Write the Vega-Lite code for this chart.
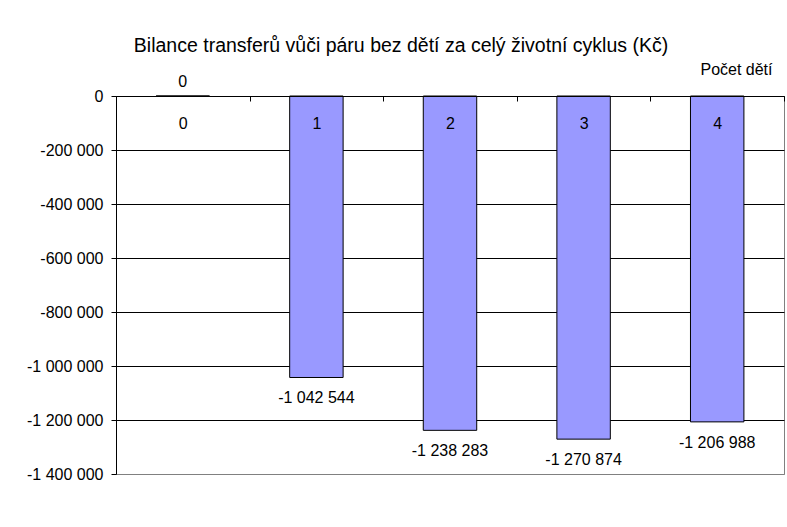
{
  "$schema": "https://vega.github.io/schema/vega-lite/v6.json",
  "width": 668,
  "height": 378,
  "autosize": {"type": "none"},
  "padding": {"left": 116, "top": 96, "right": 3, "bottom": 53},
  "background": "white",
  "title": {
    "text": "Bilance transferů vůči páru bez dětí za celý životní cyklus (Kč)",
    "font": "Liberation Sans",
    "fontSize": 19.5,
    "fontWeight": "normal",
    "color": "#000000",
    "anchor": "middle",
    "frame": "group",
    "dx": -49,
    "dy": 10,
    "baseline": "alphabetic",
    "offset": 0
  },
  "config": {
    "font": "Liberation Sans",
    "locale": {
      "number": {"decimal": ",", "thousands": " ", "grouping": [3], "currency": ["", " Kč"], "minus": "-"}
    },
    "view": {"stroke": "#808080", "strokeWidth": 1},
    "axis": {"labelFont": "Liberation Sans", "titleFont": "Liberation Sans"}
  },
  "data": {
    "values": [
      {"deti": "0", "bilance": 0},
      {"deti": "1", "bilance": -1042544},
      {"deti": "2", "bilance": -1238283},
      {"deti": "3", "bilance": -1270874},
      {"deti": "4", "bilance": -1206988}
    ]
  },
  "encoding": {
    "x": {
      "field": "deti",
      "type": "nominal",
      "sort": null,
      "scale": {"paddingInner": 0, "paddingOuter": 0},
      "axis": {
        "orient": "bottom",
        "offset": -378,
        "zindex": 1,
        "tickBand": "extent",
        "domainColor": "#000000",
        "domainWidth": 1,
        "tickColor": "#000000",
        "tickSize": 5,
        "labelPadding": 14,
        "labelAngle": 0,
        "labelFontSize": 16,
        "labelColor": "#000000",
        "grid": false,
        "title": "Počet dětí",
        "titleX": 656,
        "titleY": -22,
        "titleAlign": "right",
        "titleAnchor": null,
        "titleBaseline": "alphabetic",
        "titleFontSize": 16,
        "titleFontWeight": "normal",
        "titleColor": "#000000"
      }
    },
    "y": {
      "field": "bilance",
      "type": "quantitative",
      "scale": {"domain": [-1400000, 0], "nice": false, "zero": false},
      "axis": {
        "values": [0, -200000, -400000, -600000, -800000, -1000000, -1200000, -1400000],
        "format": ",d",
        "domainColor": "#000000",
        "tickColor": "#000000",
        "tickSize": 5,
        "labelPadding": 8,
        "labelFontSize": 16,
        "labelColor": "#000000",
        "grid": true,
        "gridColor": {"condition": {"test": "datum.value <= -1400000", "value": "#808080"}, "value": "#000000"},
        "gridOpacity": 1,
        "gridWidth": 1,
        "title": null
      }
    }
  },
  "layer": [
    {
      "mark": {"type": "bar", "width": {"band": 0.4}, "fill": "#9999FF", "stroke": "#000000", "strokeWidth": 1}
    },
    {
      "transform": [{"filter": "datum.bilance < 0"}],
      "mark": {"type": "text", "baseline": "top", "dy": 13, "fontSize": 16, "color": "#000000", "font": "Liberation Sans"},
      "encoding": {"text": {"field": "bilance", "type": "quantitative", "format": ",d"}}
    },
    {
      "transform": [{"filter": "datum.bilance >= 0"}],
      "mark": {"type": "text", "baseline": "bottom", "dy": -6, "fontSize": 16, "color": "#000000", "font": "Liberation Sans"},
      "encoding": {"text": {"field": "bilance", "type": "quantitative", "format": ",d"}}
    }
  ]
}
